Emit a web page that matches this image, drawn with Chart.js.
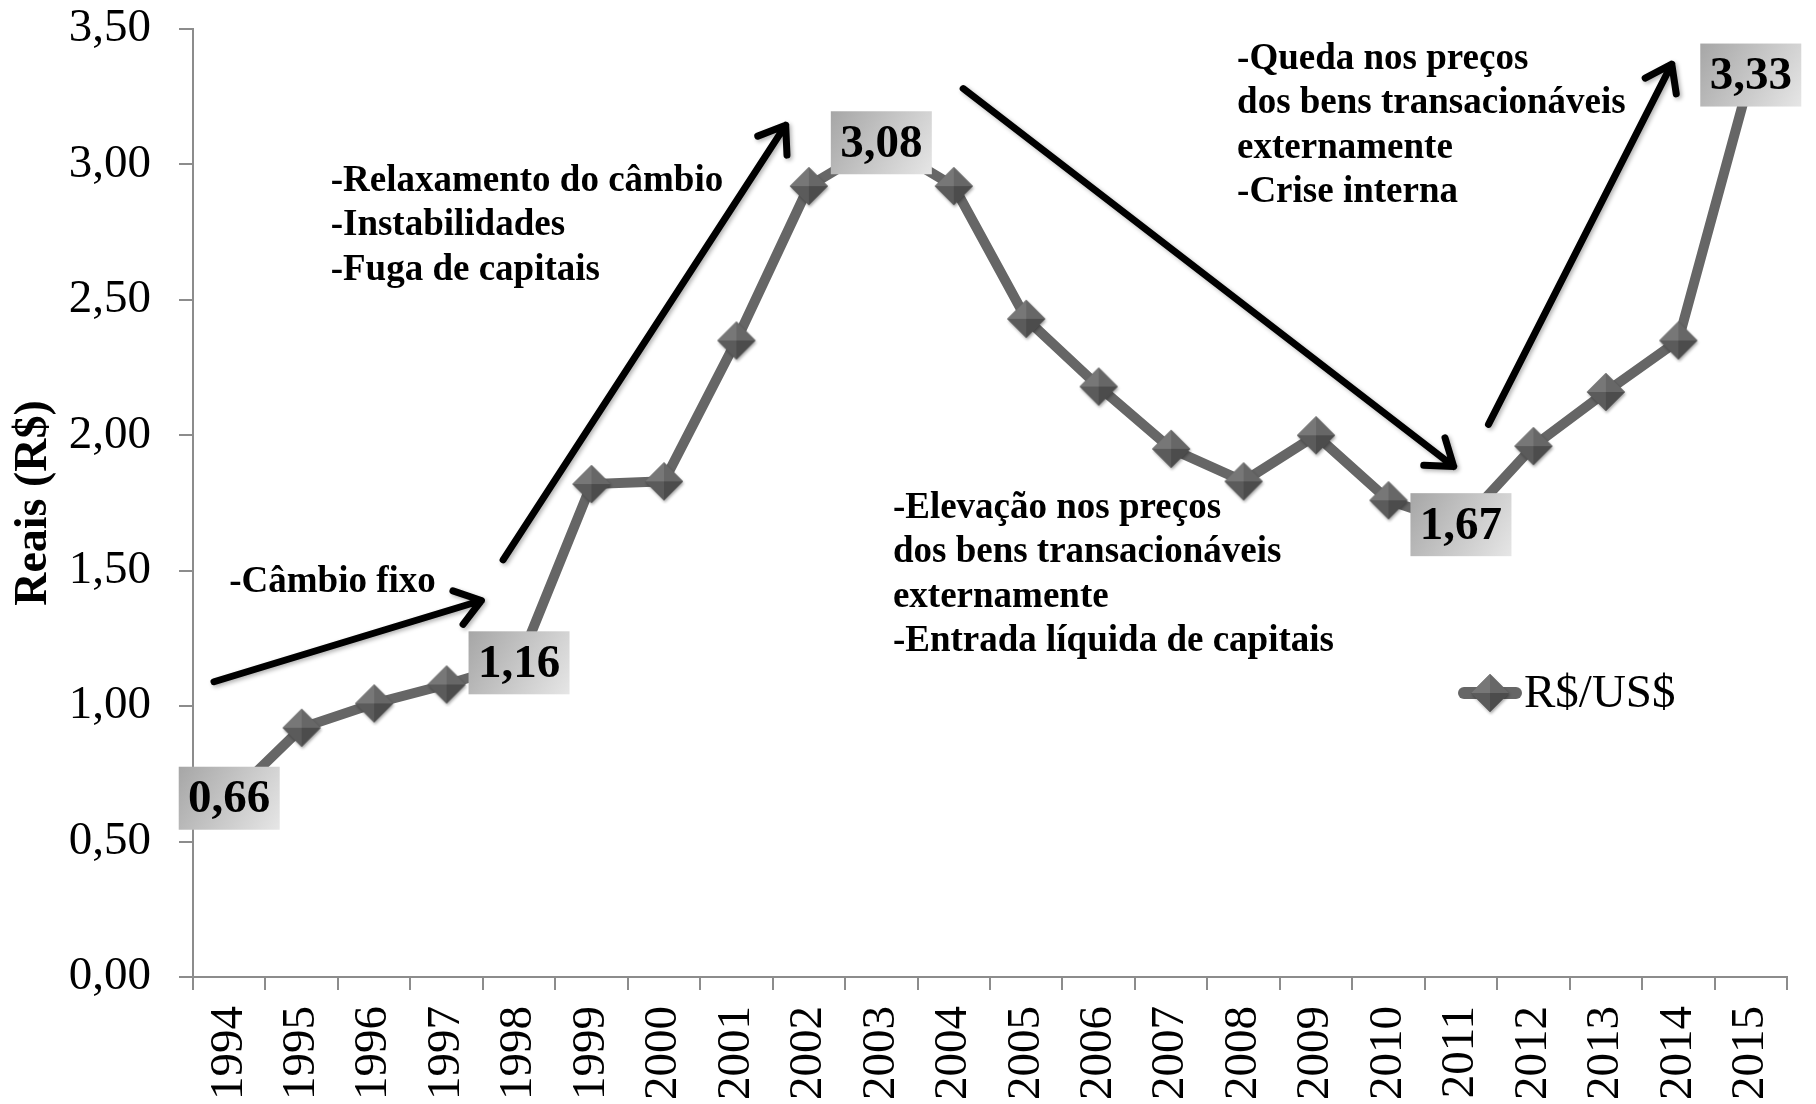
<!DOCTYPE html>
<html>
<head>
<meta charset="utf-8">
<script src="https://cdn.jsdelivr.net/npm/chart.js@4.4.0/dist/chart.umd.min.js"></script>
<style>
    html, body { margin: 0; padding: 0; background: #fff; }
    #wrap { width: 1816px; height: 1104px; }
</style>
</head>
<body>
<div id="wrap"><canvas id="cambioChart"></canvas></div>
<script>
// --- data ---
const years = ['1994', '1995', '1996', '1997', '1998', '1999', '2000', '2001', '2002', '2003', '2004',
               '2005', '2006', '2007', '2008', '2009', '2010', '2011', '2012', '2013', '2014', '2015'];
const rates = [0.66, 0.92, 1.01, 1.08, 1.16, 1.82, 1.83, 2.35, 2.92, 3.08, 2.92,
               2.43, 2.18, 1.95, 1.83, 2.00, 1.76, 1.67, 1.96, 2.16, 2.35, 3.33];
const labelledYears = ['1994', '1998', '2003', '2011', '2015'];
const seriesName = 'R$/US$';
const axisTitle = 'Reais (R$)';

// arrows: [category index, value] start and end
const arrowStart = [[-0.21, 1.09], [3.78, 1.54], [10.13, 3.28], [17.38, 2.04]];
const arrowEnd   = [[3.48, 1.39], [7.68, 3.145], [16.90, 1.885], [19.91, 3.37]];

// notes: anchor of first line [category index, value]
const noteAnchors = [[0.0, 1.456], [1.40, 2.938], [9.16, 1.73], [13.91, 3.389]];
const noteLines = [
    ['-Câmbio fixo'],
    ['-Relaxamento do câmbio', '-Instabilidades', '-Fuga de capitais'],
    ['-Elevação nos preços', 'dos bens transacionáveis', 'externamente', '-Entrada líquida de capitais'],
    ['-Queda nos preços', 'dos bens transacionáveis', 'externamente', '-Crise interna']
];

const SERIF = '"Liberation Serif", "Times New Roman", serif';
const fmt = v => v.toFixed(2).replace('.', ',');

// pyramid-like diamond marker
function makeDiamond(r) {
    const c = document.createElement('canvas');
    const s = 2 * r + 8;
    c.width = s; c.height = s;
    const g = c.getContext('2d');
    const m = s / 2;
    g.save();
    g.shadowColor = 'rgba(0,0,0,0.35)';
    g.shadowBlur = 3; g.shadowOffsetX = 1; g.shadowOffsetY = 2;
    g.beginPath();
    g.moveTo(m, m - r); g.lineTo(m + r, m); g.lineTo(m, m + r); g.lineTo(m - r, m);
    g.closePath();
    g.fillStyle = '#555'; g.fill();
    g.restore();
    const faces = [
        [[m, m - r], [m - r, m], '#777777'],
        [[m, m - r], [m + r, m], '#676767'],
        [[m - r, m], [m, m + r], '#5b5b5b'],
        [[m + r, m], [m, m + r], '#4c4c4c']
    ];
    faces.forEach(([a, b, col]) => {
        g.beginPath();
        g.moveTo(m, m); g.lineTo(a[0], a[1]); g.lineTo(b[0], b[1]);
        g.closePath();
        g.fillStyle = col; g.fill();
    });
    return c;
}
const diamond = makeDiamond(19);

// keep the plot area where the layout padding puts it
function noScalePadding(s) {
    s.paddingTop = 0; s.paddingBottom = 0; s.paddingLeft = 0; s.paddingRight = 0;
}

const overlay = {
    id: 'overlay',
    afterDatasetsDraw(chart) {
        const ctx = chart.ctx;
        const xs = chart.scales.x, ys = chart.scales.y;
        const P = (p) => [xs.getPixelForValue(p[0]), ys.getPixelForValue(p[1])];

        // arrows
        ctx.save();
        ctx.strokeStyle = '#000';
        ctx.lineWidth = 7;
        ctx.lineCap = 'round';
        ctx.lineJoin = 'round';
        ctx.shadowColor = 'rgba(0,0,0,0.3)';
        ctx.shadowBlur = 4; ctx.shadowOffsetX = 2; ctx.shadowOffsetY = 2;
        arrowStart.forEach((s, i) => {
            const [x0, y0] = P(s), [x1, y1] = P(arrowEnd[i]);
            const ang = Math.atan2(y1 - y0, x1 - x0);
            const len = 30, spread = 0.62;
            ctx.beginPath();
            ctx.moveTo(x0, y0); ctx.lineTo(x1, y1);
            ctx.moveTo(x1 - len * Math.cos(ang - spread), y1 - len * Math.sin(ang - spread));
            ctx.lineTo(x1, y1);
            ctx.lineTo(x1 - len * Math.cos(ang + spread), y1 - len * Math.sin(ang + spread));
            ctx.stroke();
        });
        ctx.restore();

        // notes
        ctx.save();
        ctx.fillStyle = '#000';
        ctx.font = 'bold 37px ' + SERIF;
        ctx.textAlign = 'left';
        ctx.textBaseline = 'middle';
        noteAnchors.forEach((a, i) => {
            const [x, y] = P(a);
            noteLines[i].forEach((t, k) => ctx.fillText(t, x, y + k * 44.5));
        });
        ctx.restore();

        // data labels
        const meta = chart.getDatasetMeta(0);
        ctx.save();
        ctx.font = 'bold 47px ' + SERIF;
        ctx.textAlign = 'center';
        ctx.textBaseline = 'middle';
        years.forEach((yr, i) => {
            if (!labelledYears.includes(yr)) return;
            const pt = meta.data[i];
            const w = 101, h = 63;
            const bx = pt.x - w / 2, by = pt.y - h / 2;
            const grad = ctx.createLinearGradient(bx, by, bx + w, by + h);
            grad.addColorStop(0, '#a6a6a6');
            grad.addColorStop(1, '#e6e6e6');
            ctx.fillStyle = grad;
            ctx.fillRect(bx, by, w, h);
            ctx.fillStyle = '#000';
            ctx.fillText(fmt(rates[i]), pt.x, pt.y + 2);
        });
        ctx.restore();

        // legend
        const ca = chart.chartArea;
        const lx = ca.right - 329, ly = ca.top + 664;
        ctx.save();
        ctx.strokeStyle = '#666';
        ctx.lineWidth = 12;
        ctx.lineCap = 'round';
        ctx.beginPath();
        ctx.moveTo(lx + 6, ly); ctx.lineTo(lx + 58, ly);
        ctx.stroke();
        ctx.drawImage(diamond, lx + 32 - diamond.width / 2, ly - diamond.height / 2);
        ctx.fillStyle = '#000';
        ctx.font = '47px ' + SERIF;
        ctx.textAlign = 'left';
        ctx.textBaseline = 'middle';
        ctx.fillText(seriesName, lx + 66, ly + 2);
        ctx.restore();
    }
};

const ctx = document.getElementById('cambioChart').getContext('2d');
const chart = new Chart(ctx, {
    type: 'line',
    data: {
        labels: years,
        datasets: [{
            label: seriesName,
            data: rates,
            borderColor: '#666666',
            borderWidth: 10,
            pointStyle: diamond,
            pointRadius: 19,
            tension: 0
        }]
    },
    options: {
        responsive: true,
        maintainAspectRatio: false,
        animation: false,
        layout: { padding: { top: 29, right: 14, left: 0, bottom: 0 } },
        plugins: {
            legend: { display: false },
            tooltip: { enabled: false }
        },
        scales: {
            x: {
                offset: true,
                afterFit: (s) => { s.height = 127; noScalePadding(s); },
                border: { color: '#8c8c8c', width: 2 },
                grid: { display: true, drawOnChartArea: false, drawTicks: true, tickLength: 13, color: '#8c8c8c', lineWidth: 2, offset: true },
                ticks: {
                    autoSkip: false, minRotation: 90, maxRotation: 90, padding: 16,
                    color: '#000', font: { family: SERIF, size: 47 }
                }
            },
            y: {
                min: 0,
                max: 3.5,
                afterFit: (s) => { s.width = 193; noScalePadding(s); },
                border: { color: '#8c8c8c', width: 2 },
                grid: { display: true, drawOnChartArea: false, drawTicks: true, tickLength: 14, color: '#8c8c8c', lineWidth: 2 },
                ticks: {
                    stepSize: 0.5, padding: 28, color: '#000',
                    font: { family: SERIF, size: 47 },
                    callback: (v) => fmt(v)
                },
                title: {
                    display: true, text: axisTitle, color: '#000',
                    font: { family: SERIF, size: 46, weight: 'bold' },
                    padding: { top: 7, bottom: 0 }
                }
            }
        }
    },
    plugins: [overlay]
});
</script>
</body>
</html>
